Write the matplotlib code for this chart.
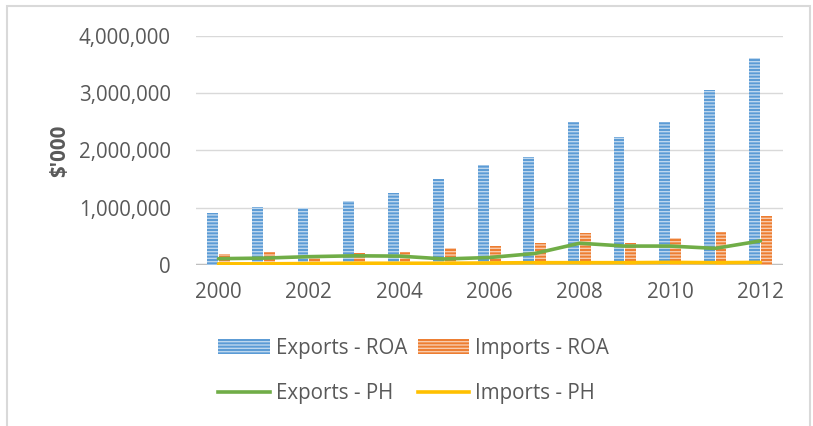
import numpy as np
import matplotlib
matplotlib.use("Agg")
import matplotlib.pyplot as plt
from matplotlib.patches import Patch, Rectangle
from matplotlib.lines import Line2D

years = [2000, 2001, 2002, 2003, 2004, 2005, 2006, 2007, 2008, 2009, 2010, 2011, 2012]
exports_roa = [900000, 1005000, 990000, 1120000, 1250000, 1510000, 1745000, 1890000, 2500000, 2230000, 2500000, 3050000, 3620000]
imports_roa = [200000, 220000, 170000, 205000, 230000, 300000, 330000, 380000, 550000, 380000, 470000, 580000, 855000]
exports_ph = [110000, 120000, 145000, 160000, 155000, 105000, 130000, 200000, 380000, 330000, 330000, 290000, 420000]
imports_ph = [20000, 20000, 25000, 30000, 30000, 30000, 35000, 40000, 40000, 40000, 45000, 40000, 45000]
xtick_years = [2000, 2002, 2004, 2006, 2008, 2010, 2012]
yticks = [0, 1000000, 2000000, 3000000, 4000000]

txt = '#595959'
plt.rcParams['font.family'] = ['Open Sans', 'DejaVu Sans']
fs = 14.8

fig = plt.figure(figsize=(8.13, 4.26), dpi=100)
ax = fig.add_axes([0.241, 0.378, 0.722, 0.5375])

x = np.arange(len(years))
w = 0.24
ax.bar(x - w/2 - 0.01, exports_roa, w, color='#5B9BD5', edgecolor='#BDD7EE',
       linewidth=0, hatch='-----', zorder=3)
ax.bar(x + w/2 + 0.01, imports_roa, w, color='#ED7D31', edgecolor='#F8CBAD',
       linewidth=0, hatch='-----', zorder=3)
ax.axhline(0, color='#BFBFBF', lw=2.5, zorder=2)
ax.plot(x, exports_ph, color='#70AD47', lw=2.6, zorder=4, solid_capstyle='round')
ax.plot(x, imports_ph, color='#FFC000', lw=2.6, zorder=4, solid_capstyle='round')

ax.set_xlim(-0.5, len(years) - 0.5)
ax.set_ylim(0, 4000000)
ax.set_yticks(yticks)
ax.set_yticklabels([f'{v:,}' for v in yticks])
ax.set_xticks([years.index(y) for y in xtick_years])
ax.set_xticklabels([str(y) for y in xtick_years])
ax.tick_params(length=0, labelsize=fs, labelcolor=txt)
ax.tick_params(axis='y', pad=18)
ax.tick_params(axis='x', pad=12)
ax.grid(axis='y', color='#D9D9D9', lw=1, zorder=0)
ax.set_axisbelow(True)
for s in ax.spines.values():
    s.set_visible(False)
ax.set_ylabel("$'000", fontsize=fs, color=txt, fontweight='bold', labelpad=6)

# column-wise fill: col 1 = exports, col 2 = imports
handles = [Patch(facecolor='#5B9BD5', edgecolor='#BDD7EE', linewidth=0, hatch='-----'),
           Line2D([], [], color='#70AD47', lw=2.6),
           Patch(facecolor='#ED7D31', edgecolor='#F8CBAD', linewidth=0, hatch='-----'),
           Line2D([], [], color='#FFC000', lw=2.6)]
labels = ['Exports - ROA', 'Exports - PH', 'Imports - ROA', 'Imports - PH']
leg = fig.legend(handles, labels, ncol=2, loc='center', bbox_to_anchor=(0.509, 0.129),
                 frameon=False, fontsize=fs, handlelength=2.5, handletextpad=0.3,
                 columnspacing=0.5, labelspacing=1.2)
for t in leg.get_texts():
    t.set_color(txt)

fig.patches.append(Rectangle((0.008, -0.1), 0.988, 1.085, transform=fig.transFigure,
                             fill=False, edgecolor='#D9D9D9', lw=1.5))

fig.savefig('out.png', dpi=100)
